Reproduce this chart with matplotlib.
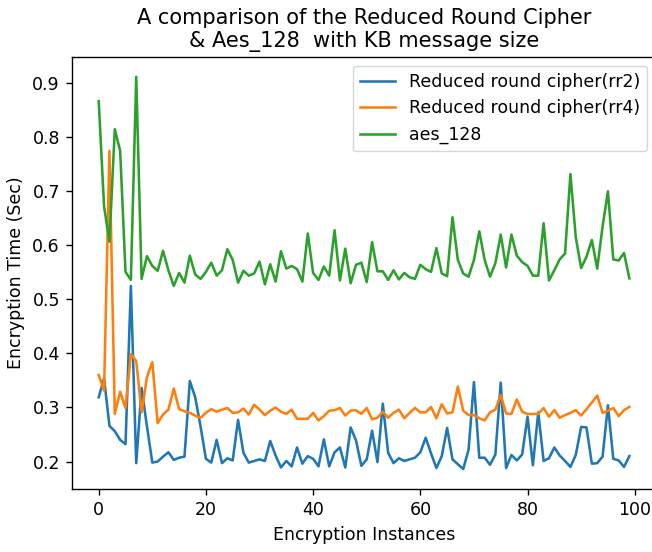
import matplotlib
matplotlib.use("Agg")
import matplotlib.pyplot as plt

instances = list(range(100))

rr2 = [0.319, 0.354, 0.266, 0.256, 0.240, 0.232, 0.525, 0.197, 0.336, 0.265,
       0.198, 0.200, 0.209, 0.217, 0.203, 0.207, 0.209, 0.349, 0.319, 0.265,
       0.205, 0.198, 0.240, 0.197, 0.206, 0.202, 0.277, 0.216, 0.198, 0.201,
       0.204, 0.201, 0.238, 0.211, 0.189, 0.201, 0.191, 0.226, 0.196, 0.210,
       0.205, 0.191, 0.241, 0.191, 0.217, 0.226, 0.189, 0.263, 0.239, 0.192,
       0.204, 0.257, 0.199, 0.307, 0.216, 0.197, 0.206, 0.201, 0.204, 0.207,
       0.217, 0.244, 0.215, 0.188, 0.210, 0.262, 0.204, 0.195, 0.186, 0.222,
       0.347, 0.207, 0.207, 0.194, 0.213, 0.346, 0.188, 0.212, 0.202, 0.213,
       0.283, 0.193, 0.291, 0.201, 0.206, 0.226, 0.211, 0.201, 0.190, 0.212,
       0.264, 0.263, 0.196, 0.197, 0.209, 0.304, 0.205, 0.202, 0.190, 0.210]

rr4 = [0.360, 0.331, 0.775, 0.288, 0.329, 0.299, 0.399, 0.386, 0.291, 0.356,
       0.384, 0.271, 0.287, 0.296, 0.335, 0.297, 0.293, 0.290, 0.285, 0.281,
       0.290, 0.297, 0.292, 0.296, 0.299, 0.290, 0.291, 0.298, 0.287, 0.305,
       0.296, 0.286, 0.294, 0.300, 0.292, 0.288, 0.296, 0.279, 0.279, 0.279,
       0.290, 0.276, 0.284, 0.294, 0.295, 0.299, 0.285, 0.294, 0.295, 0.288,
       0.299, 0.278, 0.281, 0.292, 0.281, 0.290, 0.296, 0.280, 0.290, 0.299,
       0.291, 0.291, 0.301, 0.280, 0.306, 0.289, 0.291, 0.339, 0.294, 0.286,
       0.286, 0.280, 0.276, 0.291, 0.296, 0.323, 0.289, 0.288, 0.315, 0.292,
       0.288, 0.288, 0.288, 0.299, 0.283, 0.295, 0.281, 0.286, 0.290, 0.295,
       0.285, 0.297, 0.309, 0.322, 0.290, 0.294, 0.299, 0.284, 0.295, 0.301]

aes_128 = [0.867, 0.672, 0.607, 0.815, 0.775, 0.551, 0.536, 0.912, 0.538, 0.580,
           0.562, 0.553, 0.590, 0.554, 0.525, 0.549, 0.531, 0.581, 0.546, 0.538,
           0.551, 0.568, 0.544, 0.554, 0.593, 0.573, 0.531, 0.553, 0.544, 0.548,
           0.570, 0.528, 0.565, 0.533, 0.589, 0.557, 0.562, 0.556, 0.533, 0.622,
           0.549, 0.536, 0.561, 0.544, 0.628, 0.535, 0.594, 0.530, 0.564, 0.568,
           0.532, 0.606, 0.552, 0.552, 0.536, 0.554, 0.537, 0.549, 0.541, 0.538,
           0.564, 0.556, 0.551, 0.595, 0.548, 0.543, 0.652, 0.573, 0.548, 0.542,
           0.573, 0.626, 0.573, 0.542, 0.567, 0.620, 0.559, 0.620, 0.581, 0.569,
           0.562, 0.544, 0.544, 0.641, 0.535, 0.554, 0.574, 0.585, 0.732, 0.615,
           0.558, 0.579, 0.610, 0.557, 0.635, 0.700, 0.574, 0.572, 0.586, 0.539]

labels = ["Reduced round cipher(rr2)", "Reduced round cipher(rr4)", "aes_128"]

plt.rcParams["font.family"] = ["DejaVu Sans"]
plt.rcParams["font.size"] = 12.5
plt.rcParams["lines.linewidth"] = 1.85
plt.rcParams["axes.linewidth"] = 1.0
plt.rcParams["xtick.major.width"] = 1.0
plt.rcParams["ytick.major.width"] = 1.0
plt.rcParams["xtick.major.size"] = 4.4
plt.rcParams["ytick.major.size"] = 4.4
plt.rcParams["xtick.major.pad"] = 4.4
plt.rcParams["ytick.major.pad"] = 4.4

fig = plt.figure(figsize=(6.52, 5.52), dpi=100)
ax = fig.add_axes([0.1107, 0.1147, 0.8953, 0.7817])

ax.plot(instances, rr2, color="#1f77b4", label=labels[0])
ax.plot(instances, rr4, color="#ff7f0e", label=labels[1])
ax.plot(instances, aes_128, color="#2ca02c", label=labels[2])

ax.set_title("A comparison of the Reduced Round Cipher\n& Aes_128  with KB message size",
             fontsize=15, pad=7.5)
ax.set_xlabel("Encryption Instances", labelpad=5)
ax.set_ylabel("Encryption Time (Sec)", labelpad=5)
ax.legend(loc="upper right")

fig.savefig("out.png", dpi=100)
